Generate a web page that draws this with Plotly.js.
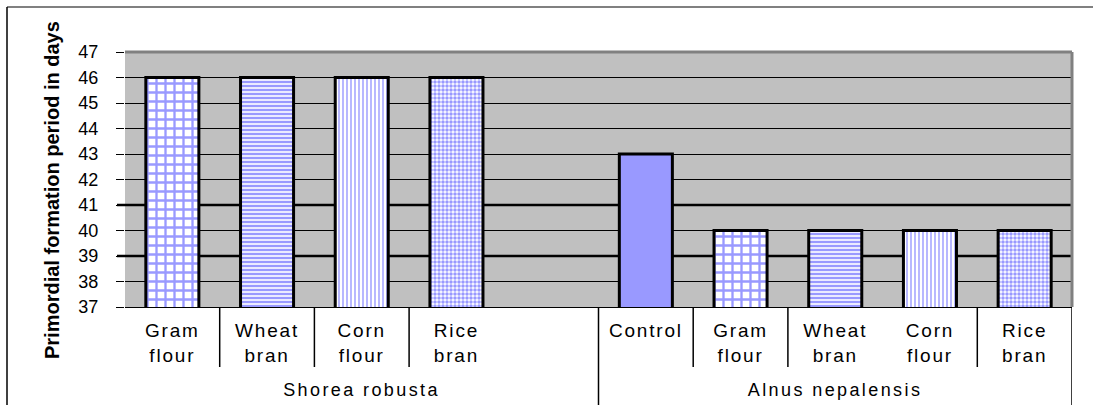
<!DOCTYPE html>
<html>
<head>
<meta charset="utf-8">
<script src="https://cdn.plot.ly/plotly-3.0.1.min.js"></script>
<style>
  html, body { margin: 0; padding: 0; background: #ffffff; }
  #chart { width: 1093px; height: 405px; }
  .xtick text { letter-spacing: 1.8px; }
  .annotation[data-index="0"] text, .annotation[data-index="1"] text { letter-spacing: 2.4px; }
</style>
</head>
<body>
<div id="chart"></div>
<script>
// ---- data ----
const groupNames = ['Shorea robusta', 'Alnus nepalensis'];
const shoreaTreatments = ['Gram flour', 'Wheat bran', 'Corn flour', 'Rice bran'];
const shoreaValues = [46, 46, 46, 46];
const alnusTreatments = ['Control', 'Gram flour', 'Wheat bran', 'Corn flour', 'Rice bran'];
const alnusValues = [43, 40, 40, 40, 40];
const yTickValues = [37, 38, 39, 40, 41, 42, 43, 44, 45, 46, 47];
const boldGridValues = [39, 41];
const yAxisTitle = 'Primordial formation period in days';

// ---- styles ----
const barBlue = '#9999FF';
const patternStyle = {
  'Control':    { shape: '',  size: 8, solidity: 0.5 },
  'Gram flour': { shape: '+', size: 9, solidity: 0.45 },
  'Wheat bran': { shape: '-', size: 4, solidity: 0.6 },
  'Corn flour': { shape: '|', size: 4, solidity: 0.35 },
  'Rice bran':  { shape: '.', size: 4, solidity: 0.6 }
};

// layout geometry (pixels)
const W = 1093, H = 405;
const L = 125, R = 1072, T = 52, B = 307;
const pw = R - L, ph = B - T;
const pxX = p => (p - L) / pw;
const pxY = p => (B - p) / ph;

// build slots: Shorea group, one empty slot, Alnus group
const xs = [], ys = [], labels = [], shapes = [], sizes = [], sols = [];
shoreaTreatments.forEach((t, i) => {
  xs.push(i); ys.push(shoreaValues[i]); labels.push(t);
});
const gapSlot = shoreaTreatments.length;
alnusTreatments.forEach((t, i) => {
  xs.push(gapSlot + 1 + i); ys.push(alnusValues[i]); labels.push(t);
});
labels.forEach(t => {
  const s = patternStyle[t];
  shapes.push(s.shape); sizes.push(s.size); sols.push(s.solidity);
});
const nSlots = shoreaTreatments.length + 1 + alnusTreatments.length;
const tickText = labels.map(t => t.replace(' ', '<br>'));

const trace = {
  type: 'bar',
  x: xs,
  y: ys,
  width: 0.56,
  marker: {
    color: barBlue,
    line: { color: '#000000', width: 3 },
    pattern: {
      shape: shapes,
      size: sizes,
      solidity: sols,
      fgcolor: barBlue,
      bgcolor: '#FFFFFF',
      fgopacity: 1,
      fillmode: 'replace'
    }
  },
  hoverinfo: 'skip'
};

// decorations
const decoShapes = [
  // outer chart frame
  { type: 'line', xref: 'paper', yref: 'paper', x0: pxX(7), x1: pxX(W), y0: pxY(7), y1: pxY(7), line: { color: '#808080', width: 2 } },
  { type: 'line', xref: 'paper', yref: 'paper', x0: pxX(7), x1: pxX(7), y0: pxY(7), y1: pxY(H + 2), line: { color: '#000000', width: 1.5 } },
  // plot area top/right border
  { type: 'line', xref: 'paper', yref: 'paper', x0: 0, x1: 1, y0: 1, y1: 1, line: { color: '#808080', width: 3 } },
  { type: 'line', xref: 'paper', yref: 'paper', x0: 1, x1: 1, y0: 0, y1: 1, line: { color: '#808080', width: 3 } }
];
// heavier grid lines (as rendered in the reference)
boldGridValues.forEach(v => decoShapes.push({ type: 'line', xref: 'paper', yref: 'y', layer: 'below', x0: pxX(117), x1: 1, y0: v, y1: v, line: { color: '#000000', width: 2.5 } }));
// category separators
const shortSeps = [0.5, 1.5, 2.5, 5.5, 6.5, 8.5];
const longSeps = [gapSlot + 0.5, nSlots - 0.5];
shortSeps.forEach(x => decoShapes.push({ type: 'line', xref: 'x', yref: 'paper', x0: x, x1: x, y0: 0, y1: pxY(367), line: { color: '#000000', width: 1.5 } }));
longSeps.forEach(x => decoShapes.push({ type: 'line', xref: 'x', yref: 'paper', x0: x, x1: x, y0: 0, y1: pxY(H + 2), line: { color: '#000000', width: 1.5 } }));

const annotations = [
  { xref: 'x', yref: 'paper', x: (0 + gapSlot) / 2, y: pxY(390), text: groupNames[0], showarrow: false, xanchor: 'center', yanchor: 'middle', font: { family: 'Liberation Sans, Arial, sans-serif', size: 18, color: '#000' } },
  { xref: 'x', yref: 'paper', x: (gapSlot + 1 + nSlots - 1) / 2, y: pxY(390), text: groupNames[1], showarrow: false, xanchor: 'center', yanchor: 'middle', font: { family: 'Liberation Sans, Arial, sans-serif', size: 18, color: '#000' } },
  { xref: 'paper', yref: 'paper', x: pxX(52), y: pxY(190), text: '<b>' + yAxisTitle + '</b>', textangle: -90, showarrow: false, xanchor: 'center', yanchor: 'middle', font: { family: 'Liberation Sans, Arial, sans-serif', size: 20, color: '#000' } }
];

const layout = {
  width: W, height: H,
  margin: { l: L, r: W - R, t: T, b: H - B, pad: 0 },
  paper_bgcolor: '#FFFFFF',
  plot_bgcolor: '#C0C0C0',
  showlegend: false,
  bargap: 0,
  xaxis: {
    range: [-0.5, nSlots - 0.5],
    tickmode: 'array',
    tickvals: xs,
    ticktext: tickText,
    ticks: '',
    showgrid: false,
    zeroline: false,
    showline: true,
    linecolor: '#000000',
    linewidth: 1,
    tickfont: { family: 'Liberation Sans, Arial, sans-serif', size: 19, color: '#000' },
    ticklabelstandoff: 6,
    fixedrange: true
  },
  yaxis: {
    range: [37, 47],
    tickmode: 'array',
    tickvals: yTickValues,
    ticktext: yTickValues.map(String),
    ticks: 'outside',
    ticklen: 8,
    tickwidth: 1,
    tickcolor: '#000000',
    showgrid: true,
    gridcolor: '#000000',
    gridwidth: 1,
    zeroline: false,
    showline: false,
    tickfont: { family: 'Liberation Sans, Arial, sans-serif', size: 18, color: '#000' },
    ticklabelstandoff: 14,
    fixedrange: true
  },
  shapes: decoShapes,
  annotations: annotations
};

Plotly.newPlot('chart', [trace], layout, { staticPlot: true, displayModeBar: false });
</script>
</body>
</html>
